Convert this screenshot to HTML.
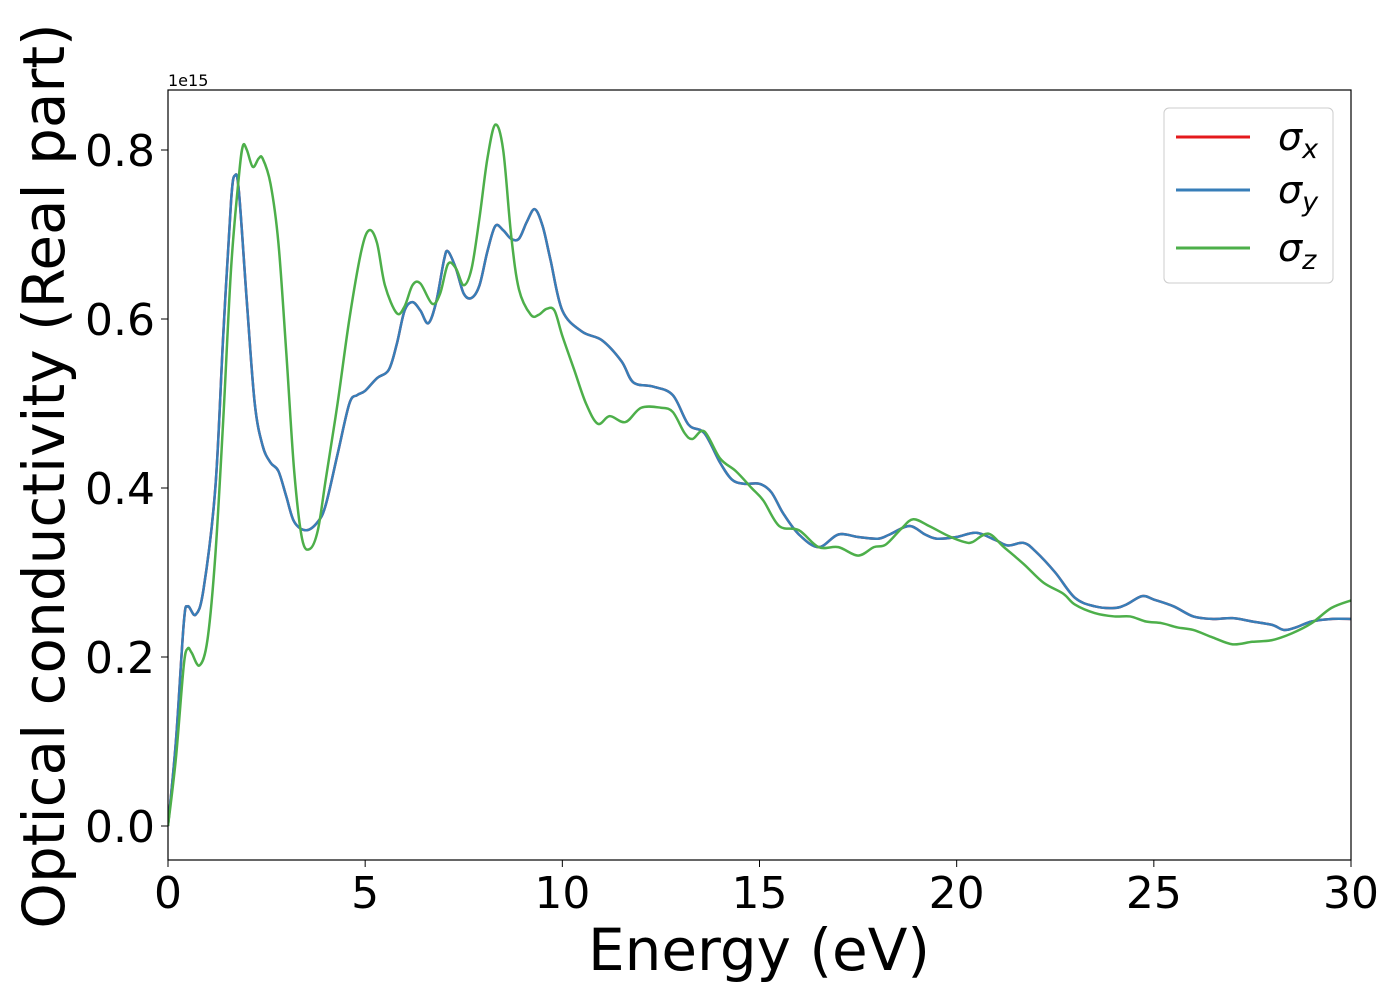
<!DOCTYPE html>
<html><head><meta charset="utf-8"><style>
body{margin:0;background:#fff;}
svg{display:block;font-family:"DejaVu Sans","Liberation Sans",sans-serif;}
</style></head><body>
<svg id="chart" width="1400" height="1000" viewBox="0 0 1400 1000" xmlns="http://www.w3.org/2000/svg">
<rect width="1400" height="1000" fill="#fff"/>
<g id="plot"></g>
<rect x="168" y="90" width="1183" height="770" fill="none" stroke="#000" stroke-width="1.2"/>
<g id="xticks"></g>
<g id="yticks"></g>
<text x="168" y="86" font-size="16">1e15</text>
<text x="759" y="970" font-size="58" text-anchor="middle">Energy (eV)</text>
<text transform="translate(64,476) rotate(-90)" font-size="58" text-anchor="middle">Optical conductivity (Real part)</text>
<g>
<rect x="1164" y="108" width="169" height="175" rx="5" fill="#fff" fill-opacity="0.8" stroke="#ccc" stroke-width="1"/>
<line x1="1176" y1="137" x2="1250" y2="137" stroke="#e41a1c" stroke-width="3"/>
<text x="1278" y="150" font-size="38" font-style="italic">σ<tspan font-size="27" dy="8">x</tspan></text>
<line x1="1176" y1="190" x2="1250" y2="190" stroke="#377eb8" stroke-width="3"/>
<text x="1278" y="203" font-size="38" font-style="italic">σ<tspan font-size="27" dy="8">y</tspan></text>
<line x1="1176" y1="248" x2="1250" y2="248" stroke="#4daf4a" stroke-width="3"/>
<text x="1278" y="261" font-size="38" font-style="italic">σ<tspan font-size="27" dy="8">z</tspan></text>
</g>
</svg>
<script>
const xTicks=[0,5,10,15,20,25,30];
const yTicks=[0.0,0.2,0.4,0.6,0.8];
const yTickLabels=["0.0","0.2","0.4","0.6","0.8"];
const xyEnergy=[0,0.2,0.4,0.5,0.7,0.9,1.2,1.4,1.6,1.7,1.8,2.0,2.2,2.4,2.6,2.8,3.0,3.2,3.5,3.8,4.0,4.3,4.6,4.8,5.0,5.3,5.6,5.8,6.0,6.2,6.4,6.6,6.8,7.0,7.1,7.3,7.5,7.7,7.9,8.1,8.3,8.5,8.7,8.9,9.1,9.3,9.5,9.7,10,10.5,11,11.5,11.8,12.3,12.8,13.2,13.6,14,14.3,14.6,15,15.3,15.6,16,16.5,17,17.5,18,18.3,18.8,19.2,19.5,20,20.5,21,21.3,21.7,22,22.5,23,23.5,24,24.3,24.7,25,25.5,26,26.5,27,27.5,28,28.3,28.6,29,29.5,30];
const sigmaXY=[0,0.1,0.24,0.26,0.25,0.28,0.4,0.58,0.74,0.77,0.75,0.62,0.5,0.45,0.43,0.42,0.39,0.36,0.35,0.36,0.38,0.44,0.5,0.51,0.515,0.53,0.54,0.57,0.61,0.62,0.61,0.595,0.62,0.67,0.68,0.66,0.63,0.625,0.64,0.68,0.71,0.705,0.695,0.695,0.715,0.73,0.71,0.67,0.61,0.585,0.575,0.55,0.525,0.52,0.51,0.475,0.465,0.43,0.41,0.405,0.405,0.395,0.37,0.345,0.33,0.345,0.342,0.34,0.345,0.355,0.345,0.34,0.342,0.347,0.338,0.332,0.335,0.325,0.3,0.27,0.26,0.258,0.262,0.272,0.268,0.26,0.248,0.245,0.246,0.242,0.238,0.232,0.235,0.242,0.245,0.245];
const zEnergy=[0,0.2,0.4,0.5,0.6,0.8,1.0,1.2,1.4,1.6,1.8,1.9,2.0,2.15,2.3,2.4,2.6,2.8,3.0,3.2,3.4,3.6,3.8,4.0,4.3,4.6,4.9,5.1,5.3,5.5,5.8,6.0,6.2,6.4,6.7,6.9,7.1,7.3,7.5,7.7,7.9,8.1,8.3,8.5,8.7,8.9,9.2,9.4,9.6,9.8,10,10.3,10.6,10.9,11.2,11.6,12,12.5,12.8,13.1,13.3,13.6,14,14.4,14.8,15.1,15.5,16,16.5,17,17.5,17.9,18.2,18.6,18.9,19.3,19.8,20.2,20.4,20.8,21.2,21.7,22.2,22.7,23,23.5,24,24.4,24.8,25.2,25.6,26,26.5,27,27.5,28,28.5,29,29.5,30];
const sigmaZ=[0,0.08,0.19,0.21,0.205,0.19,0.22,0.32,0.48,0.66,0.77,0.805,0.8,0.78,0.79,0.79,0.76,0.69,0.56,0.42,0.34,0.328,0.35,0.41,0.5,0.6,0.68,0.705,0.69,0.64,0.607,0.615,0.64,0.642,0.618,0.63,0.665,0.66,0.64,0.66,0.72,0.79,0.83,0.8,0.7,0.635,0.605,0.605,0.612,0.61,0.58,0.54,0.5,0.476,0.485,0.478,0.495,0.495,0.49,0.465,0.458,0.467,0.435,0.42,0.4,0.385,0.355,0.35,0.33,0.33,0.32,0.33,0.333,0.352,0.363,0.355,0.343,0.336,0.336,0.346,0.33,0.31,0.288,0.275,0.262,0.252,0.248,0.248,0.242,0.24,0.235,0.232,0.223,0.215,0.218,0.22,0.228,0.24,0.258,0.267];

const NS="http://www.w3.org/2000/svg";
const X0=168,X1=1351,Y0=826,YS=845;
const xs=v=>X0+(v/30)*(X1-X0);
const ys=v=>Y0-v*YS;
function smoothPath(xv,yv){
  const p=xv.map((x,i)=>[xs(x),ys(yv[i])]);
  let d="M"+p[0][0].toFixed(2)+","+p[0][1].toFixed(2);
  for(let i=0;i<p.length-1;i++){
    const a=p[Math.max(0,i-1)],b=p[i],c=p[i+1],e=p[Math.min(p.length-1,i+2)];
    const c1=[b[0]+(c[0]-a[0])/6,b[1]+(c[1]-a[1])/6];
    const c2=[c[0]-(e[0]-b[0])/6,c[1]-(e[1]-b[1])/6];
    d+=" C"+c1[0].toFixed(2)+","+c1[1].toFixed(2)+" "+c2[0].toFixed(2)+","+c2[1].toFixed(2)+" "+c[0].toFixed(2)+","+c[1].toFixed(2);
  }
  return d;
}
const plot=document.getElementById('plot');
const clip=document.createElementNS(NS,'clipPath');clip.id='cp';
const cr=document.createElementNS(NS,'rect');
cr.setAttribute('x',X0);cr.setAttribute('y',90);cr.setAttribute('width',X1-X0);cr.setAttribute('height',770);
clip.appendChild(cr);plot.appendChild(clip);
plot.setAttribute('clip-path','url(#cp)');
function addLine(xv,yv,color,name){
  const p=document.createElementNS(NS,'path');
  p.setAttribute('d',smoothPath(xv,yv));
  p.setAttribute('fill','none');p.setAttribute('stroke',color);p.setAttribute('stroke-width','2.5');
  
  
  plot.appendChild(p);
}
addLine(xyEnergy,sigmaXY,'#e41a1c','sigma-x-line');
addLine(xyEnergy,sigmaXY,'#377eb8','sigma-y-line');
addLine(zEnergy,sigmaZ,'#4daf4a','sigma-z-line');

const xg=document.getElementById('xticks');
xTicks.forEach(v=>{
  const l=document.createElementNS(NS,'line');
  l.setAttribute('x1',xs(v));l.setAttribute('x2',xs(v));l.setAttribute('y1',860);l.setAttribute('y2',867);
  l.setAttribute('stroke','#000');
  
  
  xg.appendChild(l);
  const t=document.createElementNS(NS,'text');
  t.setAttribute('x',xs(v));t.setAttribute('y',908);t.setAttribute('font-size','44');t.setAttribute('text-anchor','middle');
  t.textContent=String(v);
  
  
  xg.appendChild(t);
});
const yg=document.getElementById('yticks');
yTicks.forEach((v,i)=>{
  const l=document.createElementNS(NS,'line');
  l.setAttribute('x1',161);l.setAttribute('x2',168);l.setAttribute('y1',ys(v));l.setAttribute('y2',ys(v));
  l.setAttribute('stroke','#000');
  
  
  yg.appendChild(l);
  const t=document.createElementNS(NS,'text');
  t.setAttribute('x',155);t.setAttribute('y',ys(v)+16);t.setAttribute('font-size','44');t.setAttribute('text-anchor','end');
  t.textContent=yTickLabels[i];
  
  
  yg.appendChild(t);
});
</script>
</body></html>
